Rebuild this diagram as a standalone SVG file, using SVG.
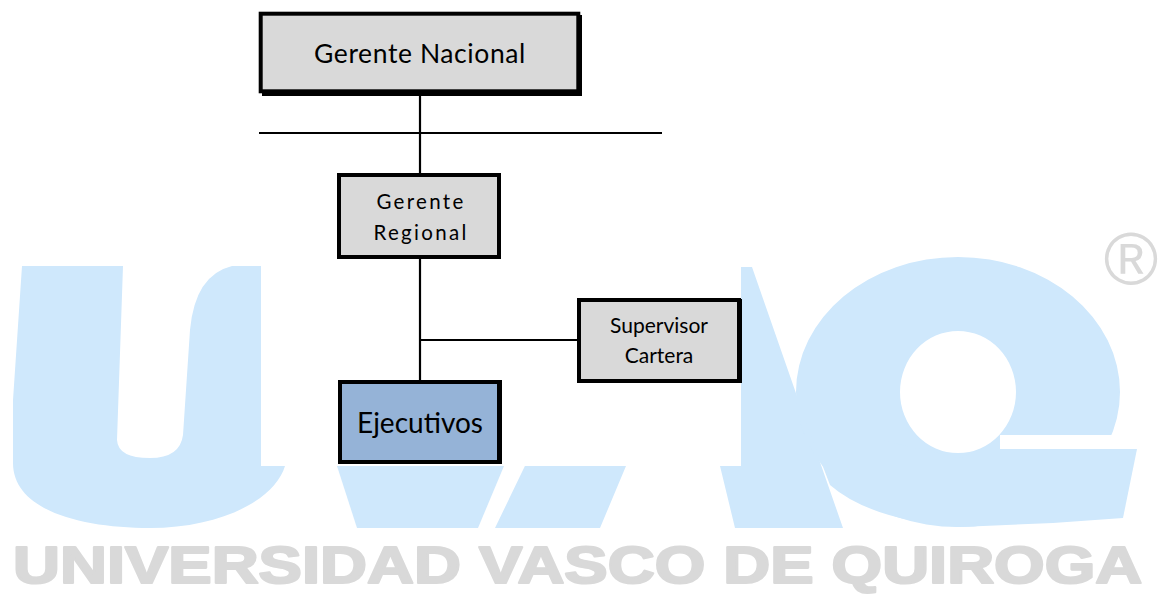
<svg xmlns="http://www.w3.org/2000/svg" width="1160" height="595" viewBox="0 0 1160 595">
  <style>
    .logo { fill: #cfe8fc; }
    .wm { fill: #d9d9d9; font-family: "Liberation Sans", sans-serif; font-weight: bold; }
    .reg { fill: #d9d9d9; font-family: "Liberation Sans", sans-serif; font-weight: normal; }
    .box { fill: #d9d9d9; stroke: #000; stroke-width: 4; }
    .blue { fill: #95b3d7; }
    .shadow { fill: #000; }
    .lbl { font-family: Lato, "Open Sans", sans-serif; fill: #000; text-anchor: middle; }
    .conn line { stroke: #000; stroke-width: 2.2; }
  </style>
  <rect width="1160" height="595" fill="#fff"/>

  <!-- watermark logo -->
  <path class="logo" d="M 22 266 L 123 266 L 117 440 Q 118 458 150 458 Q 180 458 183 435 L 190 330 Q 195 275 232 266 L 290 266 L 290 466 L 285 466 C 275 500 220 528 150 528 C 80 528 13 510 13 463 L 13 400 Z"/>
  <polygon class="logo" points="337,466 504,466 478,528 357,528"/>
  <polygon class="logo" points="621,267 752,267 843,528 735,528 720,466 686,324 626,466 600,528 495,528"/>
  <path class="logo" fill-rule="evenodd" d="M 796 392 A 162 135 0 1 1 1120 392 A 162 135 0 1 1 796 392 Z M 900 392 A 58 61 0 1 0 1016 392 A 58 61 0 1 0 900 392 Z"/>
  <path class="logo" d="M 805 420 L 830 485 Q 870 520 960 527 L 960 458 L 880 440 L 870 420 Z"/>
  <polygon class="logo" points="982,449 1137,449 1123,518 1053,523 960,527 960,458"/>
  <rect x="1000" y="435" width="120" height="14" fill="#fff"/>
  <text class="reg" x="1131" y="284" font-size="74" text-anchor="middle">®</text>
  <text class="wm" transform="matrix(1.25 0 0 1 13 583)" x="0" y="0" font-size="52" stroke="#d9d9d9" stroke-width="2.2" stroke-linejoin="round">UNIVERSIDAD VASCO DE QUIROGA</text>

  <!-- white panel behind diagram -->
  <rect x="261" y="0" width="480" height="466" fill="#fff"/>

  <g id="connectors" class="conn">
    <line x1="420" y1="94" x2="420" y2="174"/>
    <line x1="259" y1="133" x2="662" y2="133"/>
    <line x1="420" y1="258" x2="420" y2="381"/>
    <line x1="420" y1="340" x2="578" y2="340"/>
  </g>

  <g id="gerente-nacional">
    <rect class="shadow" x="262" y="15" width="320" height="81"/>
    <rect class="box" x="260.7" y="13.7" width="317.6" height="77.6" stroke-width="3.4"/>
    <text class="lbl" x="420" y="63" font-size="26.5" letter-spacing="0.6">Gerente Nacional</text>
  </g>

  <g id="gerente-regional">
    <rect class="shadow" x="338" y="174" width="163" height="85"/>
    <rect class="box" x="339" y="175" width="160" height="82"/>
    <text class="lbl" x="421" y="209" font-size="20.5" letter-spacing="2.3">Gerente</text>
    <text class="lbl" x="421" y="240" font-size="20.5" letter-spacing="2.3">Regional</text>
  </g>

  <g id="supervisor-cartera">
    <rect class="shadow" x="578" y="299" width="164" height="84"/>
    <rect class="box" x="579" y="300" width="160" height="81"/>
    <text class="lbl" x="659" y="333" font-size="21">Supervisor</text>
    <text class="lbl" x="659" y="363" font-size="21">Cartera</text>
  </g>

  <g id="ejecutivos">
    <rect class="shadow" x="338" y="380" width="164" height="84"/>
    <rect class="box blue" x="340" y="382" width="159" height="80"/>
    <text class="lbl" x="420" y="433" font-size="28">Ejecutivos</text>
  </g>
</svg>
